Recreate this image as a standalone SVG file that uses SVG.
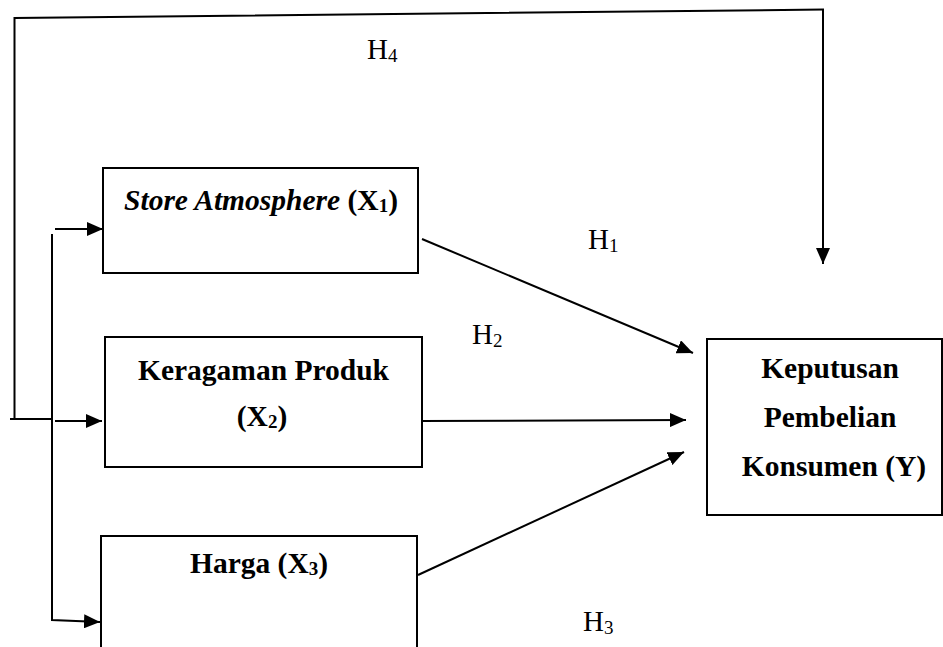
<svg xmlns="http://www.w3.org/2000/svg" width="943" height="647" viewBox="0 0 943 647">
<style>
.box{fill:#fff;stroke:#000;stroke-width:2}
.ln{fill:none;stroke:#000;stroke-width:2}
.t{font-family:"Liberation Serif","Times New Roman",serif;font-size:29.5px;font-weight:bold;fill:#000;text-anchor:middle}
.h{font-family:"Liberation Serif","Times New Roman",serif;font-size:29px;fill:#000}
.sub{font-size:19px}
</style>
<defs>
<marker id="ah" viewBox="0 0 16 14" refX="16" refY="7" markerWidth="16" markerHeight="14" markerUnits="userSpaceOnUse" orient="auto">
<path d="M0,0 L16,7 L0,14 z" fill="#000"/>
</marker>
</defs>
<rect width="943" height="647" fill="#fff"/>
<g id="connectors">
<path class="ln" d="M14.5,419 L14.5,18 L824,9.5"/>
<path class="ln" d="M823,9.5 L823,264" marker-end="url(#ah)"/>
<path class="ln" d="M10,419 L52,419"/>
<path class="ln" d="M52,234 L52,620 L100,622" marker-end="url(#ah)"/>
<path class="ln" d="M55,229 L103,229" marker-end="url(#ah)"/>
<path class="ln" d="M55,421 L102,421" marker-end="url(#ah)"/>
<path class="ln" d="M422,239 L693,353" marker-end="url(#ah)"/>
<path class="ln" d="M420,421 L686,420" marker-end="url(#ah)"/>
<path class="ln" d="M418,575 L684,452" marker-end="url(#ah)"/>
</g>
<g id="labels">
<text class="h" x="367" y="59">H<tspan class="sub" dy="3">4</tspan></text>
<text class="h" x="588" y="249">H<tspan class="sub" dy="3">1</tspan></text>
<text class="h" x="472" y="344">H<tspan class="sub" dy="3">2</tspan></text>
<text class="h" x="583" y="631">H<tspan class="sub" dy="3">3</tspan></text>
</g>
<g id="x1">
<rect class="box" x="103" y="168" width="315" height="105"/>
<text class="t" x="261" y="210"><tspan font-style="italic">Store Atmosphere</tspan> (X<tspan class="sub" dy="2">1</tspan><tspan dy="-2">)</tspan></text>
</g>
<g id="x2">
<rect class="box" x="105" y="337" width="317" height="130"/>
<text class="t" x="263.5" y="380">Keragaman Produk</text>
<text class="t" x="262" y="426">(X<tspan class="sub" dy="2">2</tspan><tspan dy="-2">)</tspan></text>
</g>
<g id="x3">
<rect class="box" x="101" y="536" width="316" height="120"/>
<text class="t" x="259" y="573">Harga (X<tspan class="sub" dy="2">3</tspan><tspan dy="-2">)</tspan></text>
</g>
<g id="y">
<rect class="box" x="707" y="339" width="235" height="176"/>
<text class="t" x="830" y="378">Keputusan</text>
<text class="t" x="830" y="427">Pembelian</text>
<text class="t" x="834" y="476">Konsumen (Y)</text>
</g>
</svg>
